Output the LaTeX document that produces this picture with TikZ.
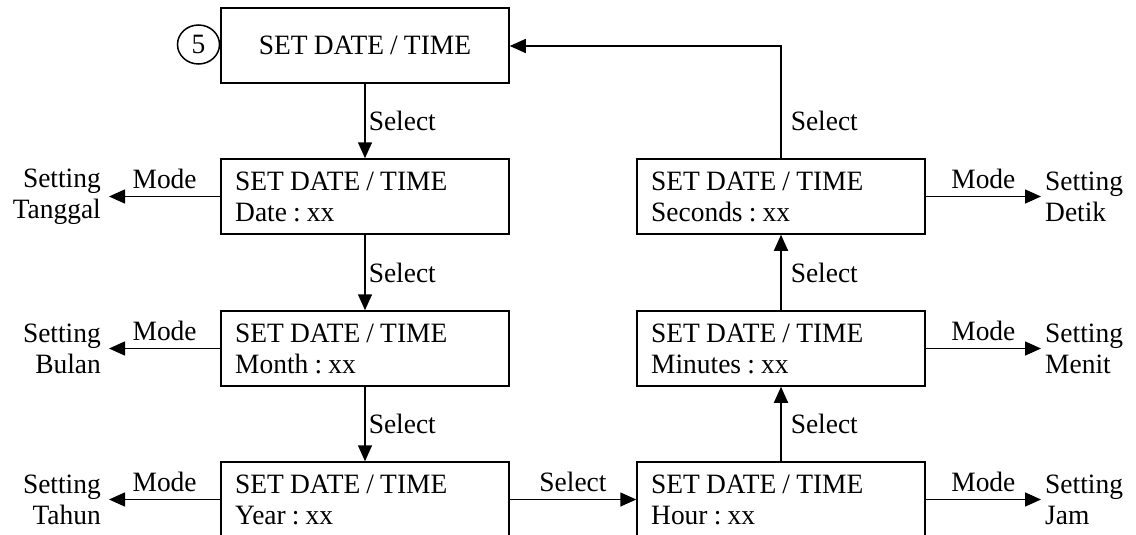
\documentclass[tikz,border=0pt]{standalone}
\usepackage{fontspec}
\setmainfont{Liberation Serif}[FakeStretch=0.98,WordSpace=0.9]
\usetikzlibrary{arrows.meta,shapes.geometric}
\tikzset{
  box/.style={draw, line width=1.5pt, minimum width=288pt, minimum height=75pt, inner sep=0pt},
  boxtext/.style={align=left, inner sep=0pt, anchor=west},
  conn/.style={line width=1.5pt, -{Triangle[length=16pt,width=14pt]}},
  lab/.style={inner sep=0pt},
  setl/.style={align=right, inner xsep=8pt, inner ysep=0pt, anchor=east},
  setr/.style={align=left, inner xsep=4pt, inner ysep=0pt, anchor=west},
}
\begin{document}
\frenchspacing
\begin{tikzpicture}[x=1pt,y=-1pt,font=\fontsize{28}{31}\selectfont\frenchspacing]
\useasboundingbox (0,0) rectangle (1136,535);
\clip (0,0) rectangle (1136,535);
% boxes
\node[box] (top) at (365,45.5) {};
\node[lab] (toptext) at (365,45.5) {SET DATE / TIME};
\node[draw, ellipse, line width=1.5pt, minimum width=42pt, minimum height=39pt, inner sep=0pt] (five) at (198.5,44.5) {5};
\node[box] (date) at (365,196.5) {};
\node[box] (month) at (365,348.5) {};
\node[box] (year) at (365,499.5) {};
\node[box] (sec) at (781,196.5) {};
\node[box] (min) at (781,348.5) {};
\node[box] (hour) at (781,499.5) {};
% box texts
\node[boxtext] (dateT) at (235,196.5) {SET DATE / TIME\\Date : xx};
\node[boxtext] (monthT) at (235,348.5) {SET DATE / TIME\\Month : xx};
\node[boxtext] (yearT) at (235,499.5) {SET DATE / TIME\\Year : xx};
\node[boxtext] (secT) at (651,196.5) {SET DATE / TIME\\Seconds : xx};
\node[boxtext] (minT) at (651,348.5) {SET DATE / TIME\\Minutes : xx};
\node[boxtext] (hourT) at (651,499.5) {SET DATE / TIME\\Hour : xx};
% setting labels
\node[setl] (sTanggal) at (109,196.5) {Setting\\Tanggal};
\node[setl] (sBulan) at (109,348.5) {Setting\\Bulan};
\node[setl] (sTahun) at (109,499.5) {Setting\\Tahun};
\node[setr] (sDetik) at (1041,196.5) {Setting\\Detik};
\node[setr] (sMenit) at (1041,348.5) {Setting\\Menit};
\node[setr] (sJam) at (1041,499.5) {Setting\\Jam};
% left column
\draw[conn] (top) -- node[lab, right=3pt] {Select} (date);
\draw[conn] (date) -- node[lab, right=3pt] {Select} (month);
\draw[conn] (month) -- node[lab, right=3pt] {Select} (year);
\draw[conn] (year) -- node[lab, above=7pt] {Select} (hour);
% right column
\draw[conn] (hour) -- node[lab, right=9pt] {Select} (min);
\draw[conn] (min) -- node[lab, right=9pt] {Select} (sec);
\coordinate (ret) at (781,46);
\draw[conn] (sec.north) -- node[lab, pos=0.33, right=9pt] {Select} (ret) -- (top.east |- ret);
% mode arrows
\draw[conn] (date.west) -- node[lab, above=7pt] {Mode} (sTanggal.east);
\draw[conn] (month.west) -- node[lab, above=7pt] {Mode} (sBulan.east);
\draw[conn] (year.west) -- node[lab, above=7pt] {Mode} (sTahun.east);
\draw[conn] (sec.east) -- node[lab, above=7pt] {Mode} (sDetik.west);
\draw[conn] (min.east) -- node[lab, above=7pt] {Mode} (sMenit.west);
\draw[conn] (hour.east) -- node[lab, above=7pt] {Mode} (sJam.west);
\end{tikzpicture}
\end{document}
